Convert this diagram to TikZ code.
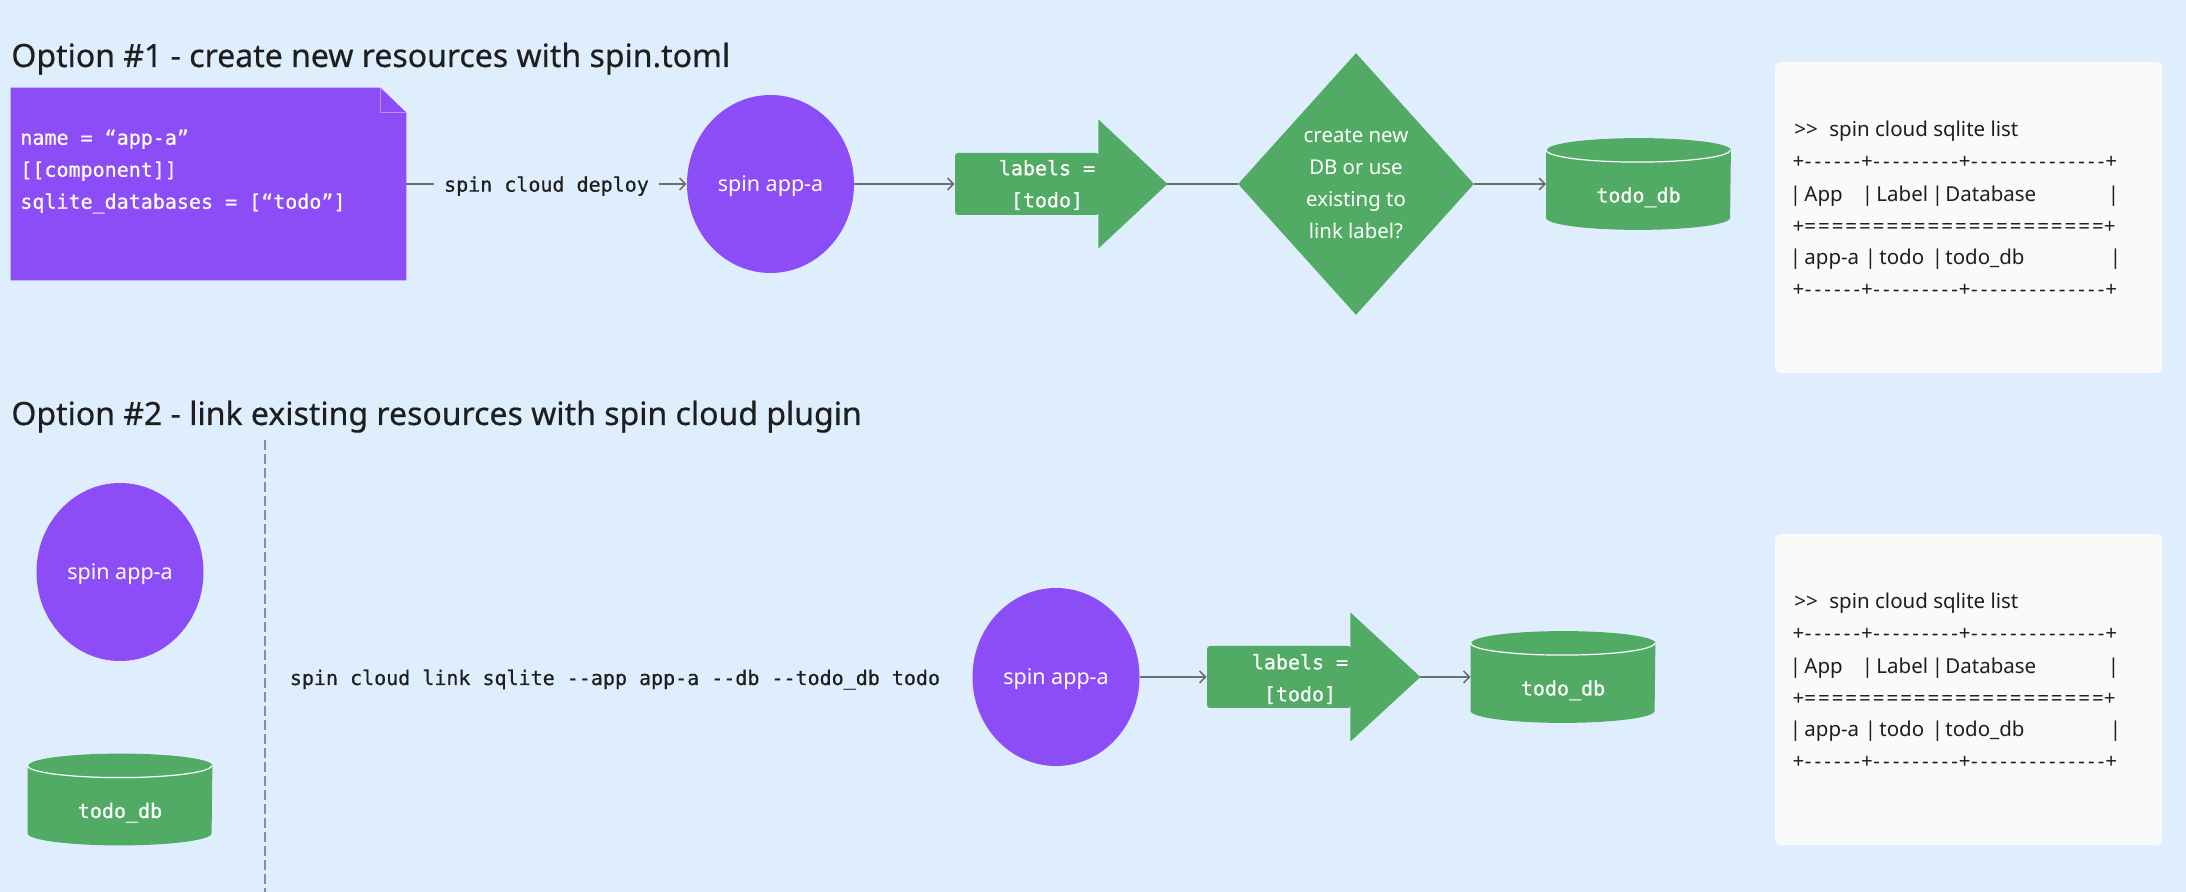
\documentclass[tikz,border=0pt]{standalone}
\usepackage{fontspec}
\setmainfont{Noto Sans}
\setmonofont{DejaVu Sans Mono}[FakeBold=0.6]
\newfontfamily\titlefont{Noto Sans}[FakeBold=0.5]
\usetikzlibrary{shapes.geometric,arrows.meta,calc,backgrounds}
\definecolor{bgc}{HTML}{DFEEFD}
\definecolor{purp}{HTML}{8C4CF6}
\definecolor{grn}{HTML}{52AB64}
\definecolor{panelc}{HTML}{FAFAFA}
\definecolor{inkc}{HTML}{1E1E1E}
\definecolor{linec}{HTML}{6E6E6E}
\definecolor{foldc}{HTML}{B794F9}
\definecolor{dashc}{HTML}{8A8E93}
\newcommand\tpos[2]{\rlap{\hspace*{#1}#2}}
\newcommand\tbar[1]{\rlap{\hspace*{#1}\makebox[0pt]{|}}}
\newcommand\tpl{\makebox[5pt]{+}}
\newcommand\tds{\makebox[4.875pt]{-}}
\newcommand\teq{\makebox[6.85pt]{=}}
\newcommand\dsix{\tds\tds\tds\tds\tds\tds}
\newcommand\dnine{\dsix\tds\tds\tds}
\newcommand\dfourteen{\dsix\dsix\tds\tds}
\newcommand\eqeleven{\teq\teq\teq\teq\teq\teq\teq\teq\teq\teq\teq}
\newcommand\sqltable[2]{%
  \node[ptext] (#1r1) at (1793,137+#2) {\tpos{0pt}{>\kern0pt>}\tpos{17.5pt}{spin cloud sqlite list}};
  \node[ptext] (#1r2) at (1793,169+#2) {\tpl\dsix\tpl\dnine\tpl\dfourteen\tpl};
  \node[ptext] (#1r3) at (1793,201.5+#2) {\tbar{0.5pt}\tpos{5pt}{App}\tbar{36.5pt}\tpos{41pt}{Label}\tbar{71.5pt}\tpos{75.5pt}{Database}\tbar{159.5pt}};
  \node[ptext] (#1r4) at (1793,233.5+#2) {\tpl\eqeleven\eqeleven\tpl};
  \node[ptext] (#1r5) at (1793,265+#2) {\tbar{0.5pt}\tpos{5pt}{app-a}\tbar{38pt}\tpos{42.5pt}{todo}\tbar{71.5pt}\tpos{75.5pt}{todo\_db}\tbar{160.5pt}};
  \node[ptext] (#1r6) at (1793,296.5+#2) {\tpl\dsix\tpl\dnine\tpl\dfourteen\tpl};
}
\newcommand\dbshape[1]{%
  \fill[grn] ($(#1.north west)+(0,12)$) -- ($(#1.south west)+(0,-12)$)
    arc[start angle=180,end angle=360,x radius=46pt,y radius=6pt]
    -- ($(#1.north east)+(0,12)$)
    arc[start angle=0,end angle=180,x radius=46pt,y radius=6pt] -- cycle;
  \draw[white, line width=0.6pt] ($(#1.north west)+(0,12)$)
    arc[start angle=180,end angle=360,x radius=46pt,y radius=6pt];
}
\begin{document}
\begin{tikzpicture}[x=0.5pt, y=-0.5pt,
  conn/.style={draw=linec, line width=0.75pt, -{Straight Barb[length=3pt,width=6pt]}},
  plainconn/.style={draw=linec, line width=0.75pt},
  appnode/.style={ellipse, fill=purp, minimum width=83.5pt, minimum height=89pt, inner sep=0pt, text=white, font=\fontsize{10.75pt}{13pt}\selectfont, text height=8pt, text depth=0pt},
  dbnode/.style={minimum width=92pt, minimum height=45.5pt, inner sep=0pt, text=white, font=\ttfamily\fontsize{10pt}{12pt}\selectfont, text height=18.5pt, text depth=0pt},
  labbox/.style={fill=grn, rounded corners=1.5pt, minimum width=72pt, minimum height=31pt, inner sep=0pt},
  labtext/.style={text=white, align=center, font=\ttfamily\fontsize{10pt}{16pt}\selectfont, inner sep=0pt},
  codetext/.style={font=\ttfamily\fontsize{10pt}{16pt}\selectfont, inner sep=0pt},
  ptext/.style={text=inkc, font=\fontsize{10.25pt}{12pt}\selectfont, inner sep=0pt, anchor=base west},
  titletext/.style={text=inkc, font=\titlefont\fontsize{16pt}{19pt}\selectfont, inner sep=0pt, anchor=base west},
  panelbox/.style={fill=panelc, rounded corners=3pt, minimum width=193.5pt, minimum height=155.5pt, inner sep=0pt},
  decision/.style={diamond, fill=grn, minimum width=118pt, minimum height=131pt, inner sep=0pt, text=white, align=center, font=\fontsize{10.2pt}{16pt}\selectfont},
  dashline/.style={draw=dashc, line width=1pt, dash pattern=on 5pt off 2pt}]
\useasboundingbox (0,0) rectangle (2186,892);
\begin{scope}[on background layer]
  \fill[bgc] (0,0) rectangle (2186,892);
\end{scope}

% titles
\node[titletext] (title1) at (11,67) {Option \#1 - create new resources with spin.toml};
\node[titletext] (title2) at (11,425) {Option \#2 - link existing resources with spin cloud plugin};

% option 1
\node[minimum width=197.5pt, minimum height=96pt, inner sep=0pt] (doc) at (208.5,184) {};
\fill[purp] (doc.north west) -- ($(doc.north east)+(-26,0)$) -- ($(doc.north east)+(0,25)$) -- (doc.south east) -- (doc.south west) -- cycle;
\draw[foldc, line width=0.75pt, line join=round] ($(doc.north east)+(-26,0)$) -- ($(doc.north east)+(-26,25)$) -- ($(doc.north east)+(0,25)$);
\node[codetext, text=white, anchor=west, align=left] (doctext) at (20,171.5) {name = “app-a”\\{[[}component]]\\sqlite\_databases = [“todo”]};

\node[appnode] (app1) at (770.5,184) {spin app-a};
\draw[conn] (doc.east) -- node[codetext, fill=bgc, text=inkc, inner xsep=5pt, inner ysep=3pt, text depth=0pt] (deploylbl) {spin cloud deploy} (app1.west);

\node[labbox] (lab1) at (1027,184) {};
\fill[grn] ($(lab1.east)+(-1,-64.5)$) -- ($(lab1.east)+(68,0)$) -- ($(lab1.east)+(-1,64.5)$) -- cycle;
\coordinate (lab1tip) at ($(lab1.east)+(68,0)$);
\node[labtext] (lab1txt) at ($(lab1.center)+(20,1)$) {labels =\\{[todo]}};
\draw[conn] (app1.east) -- (lab1.west);

\node[decision] (dec) at (1356,184) {create new\\DB or use\\existing to\\link label?};
\draw[plainconn] (lab1tip) -- (dec.west);

\node[dbnode] (db1) at (1638.5,184) {todo\_db};
\begin{scope}[on background layer]\dbshape{db1}\end{scope}
\draw[conn] (dec.east) -- (db1.west);

\node[panelbox] (panel1) at (1968.5,217.5) {};
\sqltable{pa}{0}

% option 2
\node[appnode] (app2) at (120,572) {spin app-a};
\node[dbnode] (db3) at (120,799.5) {todo\_db};
\begin{scope}[on background layer]\dbshape{db3}\end{scope}
\coordinate (divtop) at (265,440);
\coordinate (divbot) at (265,892);
\draw[dashline] (divtop) -- (divbot);

\node[codetext, text=inkc, anchor=base] (linkcmd) at (615,685) {spin cloud link sqlite -\kern0pt-app app-a -\kern0pt-db -\kern0pt-todo\_db todo};

\node[appnode] (app3) at (1056,677) {spin app-a};
\node[labbox] (lab2) at (1279,677) {};
\fill[grn] ($(lab2.east)+(-1,-64.5)$) -- ($(lab2.east)+(69,0)$) -- ($(lab2.east)+(-1,64.5)$) -- cycle;
\coordinate (lab2tip) at ($(lab2.east)+(69,0)$);
\node[labtext] (lab2txt) at ($(lab2.center)+(21,2)$) {labels =\\{[todo]}};
\draw[conn] (app3.east) -- (lab2.west);

\node[dbnode] (db2) at (1563,677) {todo\_db};
\begin{scope}[on background layer]\dbshape{db2}\end{scope}
\draw[conn] (lab2tip) -- (db2.west);

\node[panelbox] (panel2) at (1968.5,689.5) {};
\sqltable{pb}{472}
\end{tikzpicture}
\end{document}
